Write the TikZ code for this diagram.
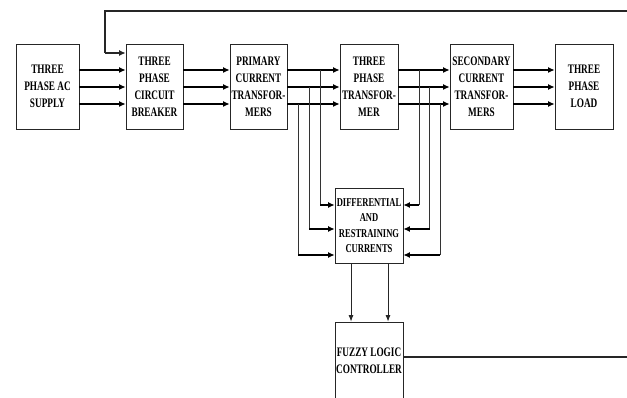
\documentclass[tikz,border=0pt]{standalone}
\usepackage{fontspec}
\setmainfont{Liberation Serif}[FakeStretch=0.71]
\usetikzlibrary{arrows.meta,calc}
\begin{document}
\begin{tikzpicture}[x=1pt,y=-1pt,
  box/.style={draw=black!85, line width=0.8pt, inner sep=0pt, align=center,
    font=\bfseries\fontsize{13}{17}\selectfont},
  mainbox/.style={box, minimum height=85pt},
  arr/.style={line width=1.2pt, -{Latex[length=6.5pt,width=6pt]}},
  tap/.style={line width=0.8pt, black!80},
  taparr/.style={line width=1.1pt, -{Latex[length=6.5pt,width=6pt]}},
  downarr/.style={line width=0.8pt, black!85, -{Latex[length=6.5pt,width=5pt]}},
  fb/.style={line width=1.1pt, black!85}
]
\useasboundingbox (0,0) rectangle (627,398);
\clip (0,0) rectangle (627,398);
\node[mainbox, minimum width=63pt] (sup) at (47.5,86.5) {THREE\\PHASE AC\\SUPPLY};
\node[mainbox, minimum width=57pt] (brk) at (154.5,86.5) {THREE\\PHASE\\CIRCUIT\\BREAKER};
\node[mainbox, minimum width=57pt] (pct) at (258.5,86.5) {PRIMARY\\CURRENT\\TRANSFOR-\\MERS};
\node[mainbox, minimum width=58pt] (tr) at (369,86.5) {THREE\\PHASE\\TRANSFOR-\\MER};
\node[mainbox, minimum width=63pt] (sct) at (481.5,86.5) {SECONDARY\\CURRENT\\TRANSFOR-\\MERS};
\node[mainbox, minimum width=58pt] (load) at (584,86.5) {THREE\\PHASE\\LOAD};
\node[box, minimum width=68pt, minimum height=75pt, font=\bfseries\fontsize{12}{15.5}\selectfont] (diff) at (369,225.5) {DIFFERENTIAL\\AND\\RESTRAINING\\CURRENTS};
\node[box, minimum width=68pt, minimum height=78pt] (flc) at (369,361) {FUZZY LOGIC\\CONTROLLER};

% three-phase lines
\foreach \y in {70,87,104}{
  \draw[arr] (sup.east |- 0,\y) -- (brk.west |- 0,\y);
  \draw[arr] (brk.east |- 0,\y) -- (pct.west |- 0,\y);
  \draw[arr] (pct.east |- 0,\y) -- (tr.west |- 0,\y);
  \draw[arr] (tr.east |- 0,\y) -- (sct.west |- 0,\y);
  \draw[arr] (sct.east |- 0,\y) -- (load.west |- 0,\y);
}
% taps on primary side
\coordinate (p1) at (320,70);
\coordinate (p2) at (309,87);
\coordinate (p3) at (298,104);
\draw[tap] (p1) -- (320,205);
\draw[tap] (p2) -- (309,229);
\draw[tap] (p3) -- (298,255);
\draw[taparr] (320,205) -- (diff.west |- 0,205);
\draw[taparr] (309,229) -- (diff.west |- 0,229);
\draw[taparr] (298,255) -- (diff.west |- 0,255);
% taps on secondary side
\coordinate (s1) at (419,70);
\coordinate (s2) at (429.5,87);
\coordinate (s3) at (440,104);
\draw[tap] (s1) -- (419,205);
\draw[tap] (s2) -- (429.5,229);
\draw[tap] (s3) -- (440,255);
\draw[taparr] (419,205) -- (diff.east |- 0,205);
\draw[taparr] (429.5,229) -- (diff.east |- 0,229);
\draw[taparr] (440,255) -- (diff.east |- 0,255);
% to fuzzy controller
\draw[downarr] (diff.south -| 351,0) -- (flc.north -| 351,0);
\draw[downarr] (diff.south -| 388,0) -- (flc.north -| 388,0);
% feedback
\coordinate (fr) at (640,357);
\coordinate (tr1) at (640,11);
\coordinate (tl) at (105,11);
\coordinate (tb) at (105,53);
\draw[fb] (flc.east |- 0,357) -- (fr) -- (tr1) -- (tl) -- (tb);
\draw[fb, -{Latex[length=6.5pt,width=6pt]}] (tb) -- (brk.west |- 0,53);
\end{tikzpicture}
\end{document}
